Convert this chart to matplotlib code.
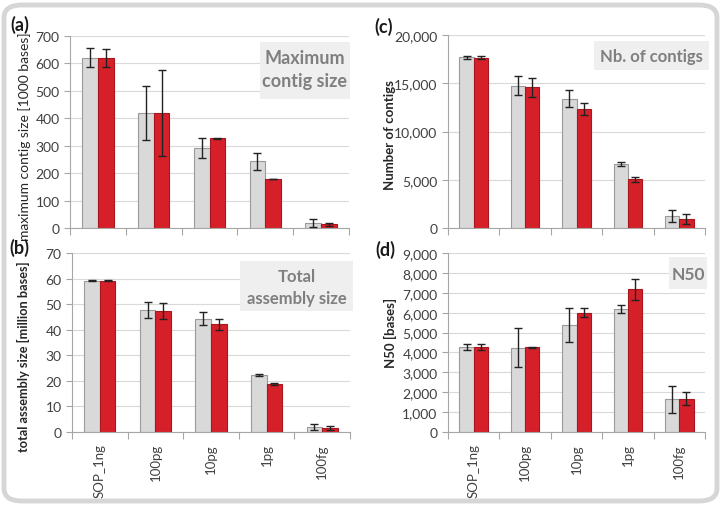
import numpy as np
from matplotlib import pyplot as plt
from matplotlib.patches import FancyBboxPatch
from matplotlib.ticker import FuncFormatter

plt.rcParams['font.family'] = ['Lato', 'DejaVu Sans']

samples = ["SOP_1ng", "100pg", "10pg", "1pg", "100fg"]

# (a) maximum contig size [1000 bases]
maxc_grey = [621, 418, 291, 243, 18]
maxc_grey_err = [35, 98, 37, 30, 14]
maxc_red = [620, 419, 327, 178, 13]
maxc_red_err = [34, 156, 1, 1, 5]

# (b) total assembly size [million bases]
tot_grey = [59.2, 47.7, 44.3, 22.4, 1.95]
tot_grey_err = [0.3, 3.3, 2.5, 0.4, 1.05]
tot_red = [59.2, 47.3, 42.1, 18.7, 1.56]
tot_red_err = [0.3, 3.3, 2.2, 0.5, 0.8]

# (c) number of contigs
nb_grey = [17700, 14760, 13380, 6620, 1240]
nb_grey_err = [170, 1000, 880, 240, 670]
nb_red = [17660, 14590, 12340, 5030, 930]
nb_red_err = [170, 1000, 590, 220, 480]

# (d) N50 [bases]
n50_grey = [4280, 4230, 5380, 6200, 1640]
n50_grey_err = [150, 980, 850, 200, 680]
n50_red = [4280, 4260, 6000, 7170, 1670]
n50_red_err = [150, 30, 220, 540, 335]

GREY = "#d9d9d9"
RED = "#d5202a"
W, H = 723, 506

fig = plt.figure(figsize=(7.23, 5.06), dpi=100)
fig.patch.set_facecolor("white")

frame = FancyBboxPatch((4 / W, 4 / H), 713 / W, 496 / H,
                       boxstyle="round,pad=0,rounding_size=0.025",
                       transform=fig.transFigure, facecolor="white",
                       edgecolor="#d6d6d6", linewidth=3.5, zorder=-10)
fig.patches.append(frame)


def px_axes(left, right, top, bottom):
    ax = fig.add_axes([left / W, 1 - bottom / H, (right - left) / W, (bottom - top) / H])
    ax.patch.set_alpha(0)
    return ax


def panel(ax, grey, grey_err, red, red_err, ymax, ystep, comma, show_x):
    x = np.arange(len(samples))
    bw = 0.28
    ax.bar(x - bw / 2, grey, bw, color=GREY, edgecolor="#9a9a9a", linewidth=0.8, zorder=2)
    ax.bar(x + bw / 2, red, bw, color=RED, edgecolor="#a8161e", linewidth=0.8, zorder=2)
    ekw = dict(fmt="none", ecolor="#222222", elinewidth=1.0, capsize=3, capthick=1.0, zorder=3)
    ax.errorbar(x - bw / 2, grey, yerr=grey_err, **ekw)
    ax.errorbar(x + bw / 2, red, yerr=red_err, **ekw)
    ax.set_xlim(-0.5, len(samples) - 0.5)
    ax.set_ylim(0, ymax)
    ax.set_yticks(np.arange(0, ymax + ystep / 2, ystep))
    if comma:
        ax.yaxis.set_major_formatter(FuncFormatter(lambda v, p: "{:,.0f}".format(v)))
    ax.yaxis.grid(True, color="#d9d9d9", linewidth=0.8, zorder=0)
    ax.set_axisbelow(True)
    for s in ["top", "right"]:
        ax.spines[s].set_visible(False)
    for s in ["left", "bottom"]:
        ax.spines[s].set_color("#a6a6a6")
        ax.spines[s].set_linewidth(0.8)
    ax.tick_params(axis="y", colors="#a6a6a6", labelcolor="#404040", labelsize=10, length=4, width=0.8)
    ax.set_xticks(np.arange(-0.5, len(samples)), minor=False)
    ax.set_xticklabels([])
    ax.set_xticks(x, minor=True)
    ax.tick_params(axis="x", which="major", colors="#a6a6a6", length=5, width=0.8)
    ax.tick_params(axis="x", which="minor", length=0, labelsize=9.5, labelcolor="#404040", pad=8)
    if show_x:
        ax.set_xticklabels(samples, minor=True, rotation=90)


def title_box(x0, y0, x1, y1, lines, ys, size=12.5):
    box = FancyBboxPatch((x0 / W, 1 - y1 / H), (x1 - x0) / W, (y1 - y0) / H,
                         boxstyle="square,pad=0", transform=fig.transFigure,
                         facecolor="#efefef", edgecolor="none", zorder=5)
    fig.patches.append(box)
    for t, y in zip(lines, ys):
        fig.text((x0 + x1) / 2 / W, 1 - y / H, t, ha="center", va="center",
                 fontsize=size, fontweight="bold", color="#7f7f7f", zorder=6)


def y_title(text, xc, yc, size, weight):
    fig.text(xc / W, 1 - yc / H, text, rotation=90, ha="center", va="center",
             fontsize=size, fontweight=weight, color="#262626")


ax_a = px_axes(70, 349, 37, 229)
panel(ax_a, maxc_grey, maxc_grey_err, maxc_red, maxc_red_err, 700, 100, False, False)
y_title("maximum contig size [1000 bases]", 25, 137, 10, "normal")

ax_c = px_axes(448, 705, 36, 229)
panel(ax_c, nb_grey, nb_grey_err, nb_red, nb_red_err, 20000, 5000, True, False)
y_title("Number of contigs", 390, 135, 9.5, "bold")

ax_b = px_axes(72, 350, 254, 433)
panel(ax_b, tot_grey, tot_grey_err, tot_red, tot_red_err, 70, 10, False, True)
y_title("total assembly size [million bases]", 23, 357, 9.2, "bold")

ax_d = px_axes(448, 705, 254, 433)
panel(ax_d, n50_grey, n50_grey_err, n50_red, n50_red_err, 9000, 1000, True, True)
y_title("N50 [bases]", 390, 333, 9.5, "bold")

title_box(260, 43, 350, 100, ["Maximum", "contig size"], [58, 82], 13)
title_box(594, 42, 709, 71, ["Nb. of contigs"], [57], 12)
title_box(240, 262, 353, 312, ["Total", "assembly size"], [277, 299], 12)
title_box(669, 258, 707, 290, ["N50"], [275], 12.5)

for lab, xp, yp in [("(a)", 20, 25), ("(c)", 384, 27), ("(b)", 19, 248), ("(d)", 385, 250)]:
    fig.text(xp / W, 1 - yp / H, lab, ha="center", va="center", fontsize=13,
             fontweight="bold", color="#1a1a1a")

fig.savefig("out.png", dpi=100)
